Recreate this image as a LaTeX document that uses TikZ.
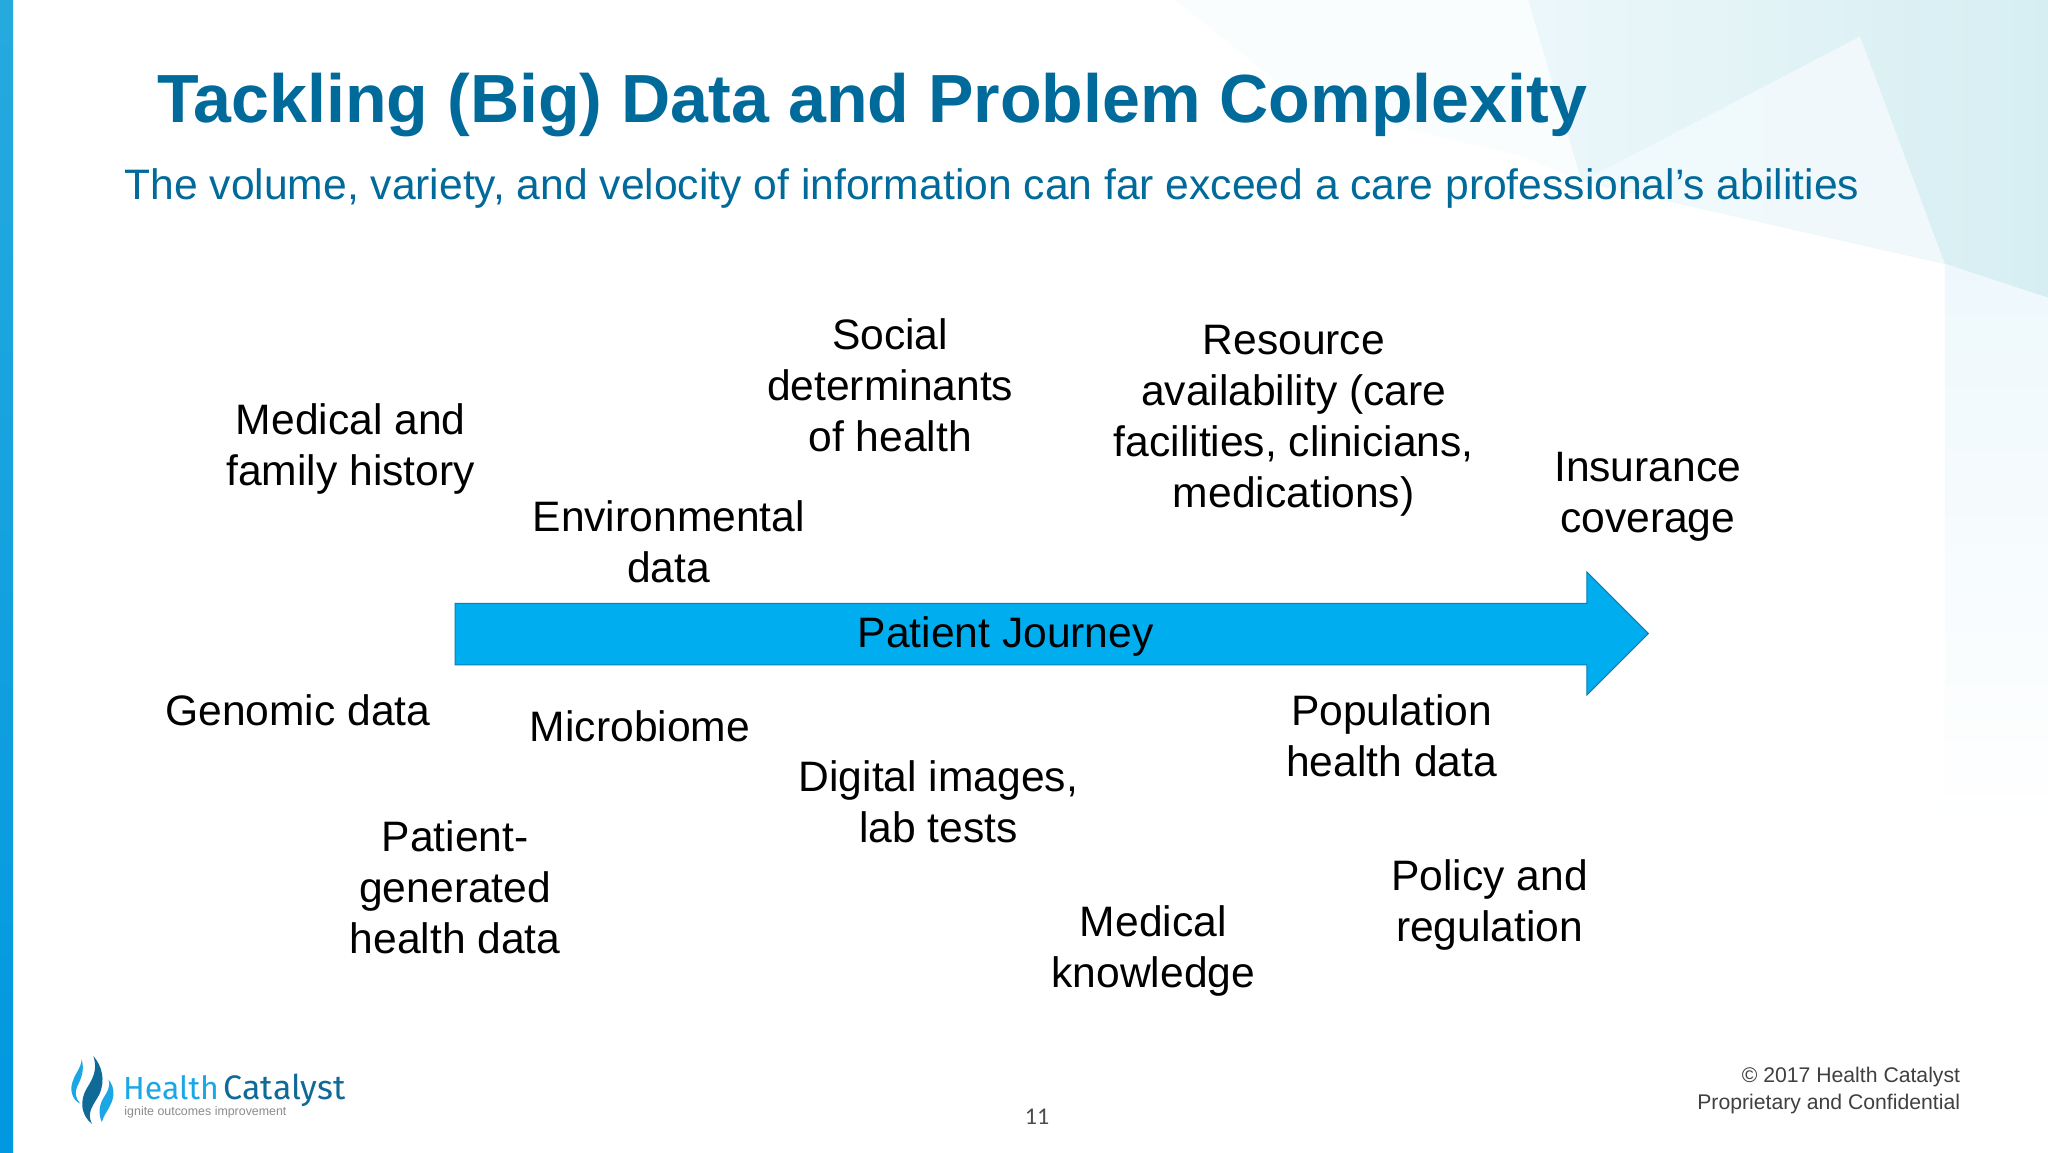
\documentclass[tikz,border=0pt]{standalone}
\usepackage{fontspec}
\setmainfont{Liberation Sans}
\newfontfamily\logofont{Fira Sans}
\newfontfamily\pagefont{Carlito}
\usetikzlibrary{shadings}
\definecolor{titleblue}{HTML}{006A9B}
\definecolor{arrowblue}{HTML}{00AEEF}
\definecolor{arrowedge}{HTML}{0A7FB5}
\definecolor{logolight}{HTML}{1BA6E6}
\definecolor{logodark}{HTML}{0F6A97}
\tikzset{
  x=0.65306pt,y=-0.65306pt,
  lbl/.style={align=center,inner sep=0pt,text=black,font=\fontsize{21.3}{25.5}\selectfont},
  flamelight/.style={fill=logolight,draw=none},
  flamedark/.style={fill=logodark,draw=none},
}
\begin{document}
\begin{tikzpicture}
\useasboundingbox (0,0) rectangle (1568,882);
\fill[white] (0,0) rectangle (1568,882);
% background facets
\fill[color={rgb,255:red,249;green,253;blue,254}] (900,0) -- (1170,0) -- (1211,139) -- (1167,120) -- (1000,80) -- cycle;
\shade[left color={rgb,255:red,236;green,247;blue,250},right color={rgb,255:red,214;green,238;blue,242}] (1170,0) -- (1568,0) -- (1568,228) -- (1489,202) -- (1211,139) -- cycle;
\shade[left color={rgb,255:red,240;green,249;blue,252},right color={rgb,255:red,240;green,248;blue,252}] (1211,139) -- (1424,28) -- (1489,202) -- cycle;
\shade[top color={rgb,255:red,238;green,248;blue,252},bottom color=white] (1489,202) -- (1568,228) -- (1568,640) -- (1489,640) -- cycle;
\shade[top color={rgb,255:red,38;green,170;blue,222},bottom color={rgb,255:red,0;green,152;blue,224}] (0,0) rectangle (10,882);
% title
\node[anchor=base west,inner sep=0pt,text=titleblue,font=\fontsize{34.07}{40}\selectfont\bfseries] (title) at (120,94) {Tackling (Big) Data and Problem Complexity};
\node[anchor=base west,inner sep=0pt,text=titleblue,font=\fontsize{21.31}{25}\selectfont] (subtitle) at (95,153) {The volume, variety, and velocity of information can far exceed a care professional’s abilities};
% arrow
\draw[fill=arrowblue,draw=arrowedge,line width=0.5pt] (348.5,462) -- (1215,462) -- (1215,438) -- (1262,485) -- (1215,532) -- (1215,509) -- (348.5,509) -- cycle;
\node[lbl] (journey) at (770,487) {Patient Journey};
% labels
\node[lbl] (history) at (268.5,344) {Medical and\\family history};
\node[lbl] (social) at (681.5,295) {Social\\determinants\\of health};
\node[lbl] (resource) at (990.5,322) {Resource\\availability (care\\facilities, clinicians,\\medications)};
\node[lbl] (environ) at (512,415) {Environmental\\data};
\node[lbl] (insurance) at (1261.5,380) {Insurance\\coverage};
\node[lbl] (genomic) at (228,544) {Genomic data};
\node[lbl] (microbiome) at (490,556) {Microbiome};
\node[lbl] (digital) at (718.5,613.5) {Digital images,\\lab tests};
\node[lbl] (population) at (1065.5,563.5) {Population\\health data};
\node[lbl] (patient) at (348.5,679) {Patient-\\generated\\health data};
\node[lbl] (policy) at (1140.5,693) {Policy and\\regulation};
\node[lbl] (knowledge) at (883,728) {Medical\\knowledge};
% logo
\fill[flamedark] (71.5,808.5) .. controls (78,816) and (81,827) .. (76,838) .. controls (71,847) and (66,852) .. (70.5,860.5) .. controls (62,854) and (61,843) .. (66,834) .. controls (71,826) and (75,819) .. (71.5,808.5) -- cycle;
\fill[flamelight] (62.5,811) .. controls (65,820) and (62,826) .. (59,832) .. controls (57,837) and (58,841) .. (61.5,845) .. controls (55,842) and (53,834) .. (56,827) .. controls (58,821) and (62,818) .. (62.5,811) -- cycle;
\fill[flamelight] (83,826.5) .. controls (88,832) and (88,840) .. (84,847) .. controls (82,851) and (79,855) .. (78,859) .. controls (75,853) and (76,846) .. (79,841) .. controls (82,836) and (85,832) .. (83,826.5) -- cycle;
\node[anchor=base west,inner sep=0pt,text=logolight,font=\logofont\fontsize{16}{20}\selectfont] (health) at (94,842) {Health};
\node[anchor=base west,inner sep=0pt,text=logodark,font=\logofont\fontsize{17}{20}\selectfont] (catalyst) at (171,842) {Catalyst};
\node[anchor=base west,inner sep=0pt,text=black!45,font=\fontsize{6.2}{7}\selectfont] (tagline) at (95,854) {ignite outcomes improvement};
% footer
\node[anchor=base,inner sep=0pt,text=black!70,font=\pagefont\fontsize{12}{13}\selectfont] (pagenum) at (794,861) {11};
\node[anchor=north east,align=right,inner sep=0pt,text=black!75,font=\fontsize{10.6}{13.2}\selectfont] (copyright) at (1501,817) {© 2017 Health Catalyst\\Proprietary and Confidential};
\end{tikzpicture}
\end{document}
